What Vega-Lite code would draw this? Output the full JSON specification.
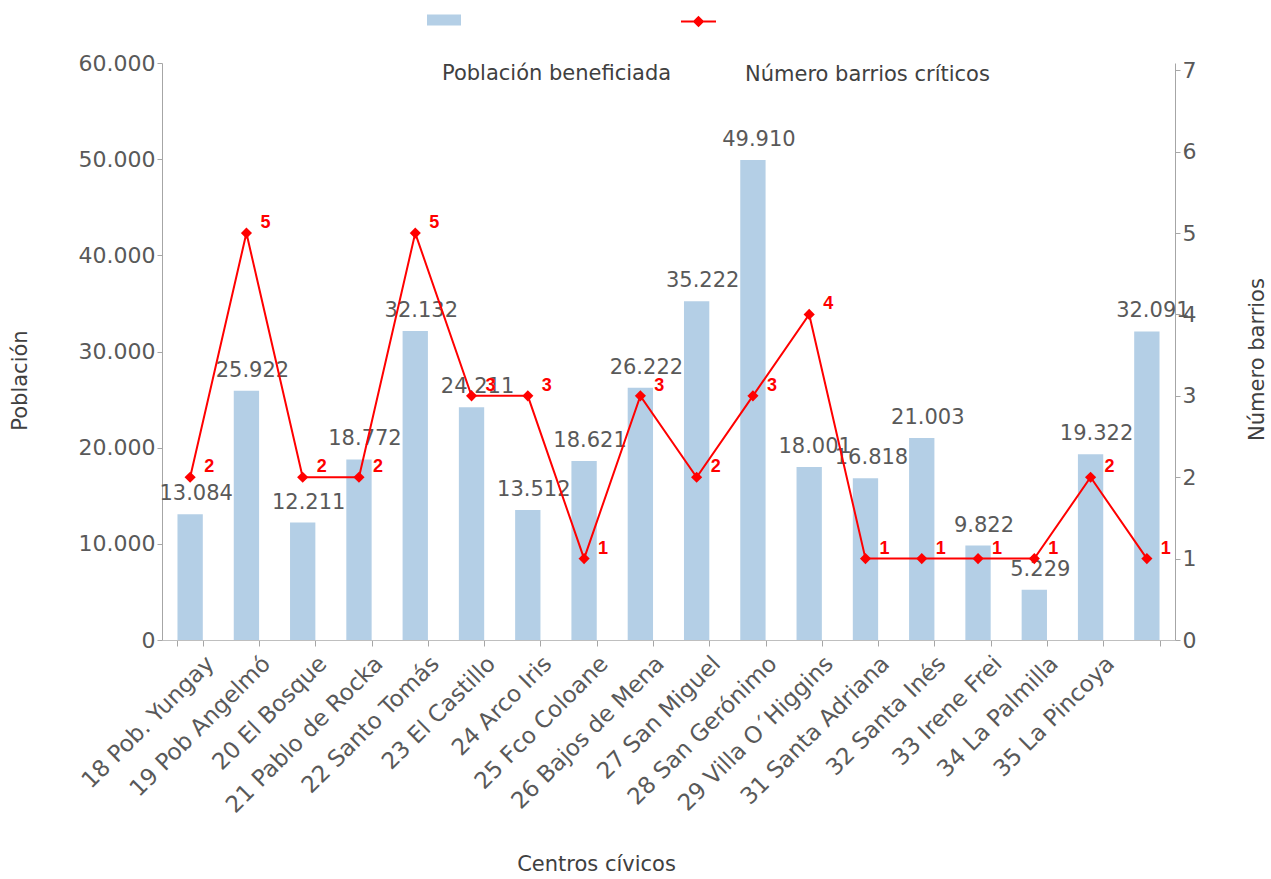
{
  "$schema": "https://vega.github.io/schema/vega-lite/v6.json",
  "width": 1013,
  "height": 577,
  "autosize": {"type": "none"},
  "padding": {"left": 162, "top": 63, "right": 96, "bottom": 239},
  "background": "white",
  "config": {
    "locale": {"number": {"decimal": ",", "thousands": ".", "grouping": [3], "currency": ["$", ""]}},
    "view": {"stroke": null},
    "font": "DejaVu Sans",
    "axis": {"labelColor": "#595959", "titleColor": "#404040", "labelFont": "DejaVu Sans", "titleFont": "DejaVu Sans", "titleFontWeight": "normal", "domainColor": "#a6a6a6", "tickColor": "#a6a6a6", "grid": false}
  },
  "data": {"values": [
    {"centro": "18 Pob. Yungay", "poblacion": 13084, "barrios": 2},
    {"centro": "19 Pob Angelmó", "poblacion": 25922, "barrios": 5},
    {"centro": "20 El Bosque", "poblacion": 12211, "barrios": 2},
    {"centro": "21 Pablo de Rocka", "poblacion": 18772, "barrios": 2},
    {"centro": "22 Santo Tomás", "poblacion": 32132, "barrios": 5},
    {"centro": "23 El Castillo", "poblacion": 24211, "barrios": 3},
    {"centro": "24 Arco Iris", "poblacion": 13512, "barrios": 3},
    {"centro": "25 Fco Coloane", "poblacion": 18621, "barrios": 1},
    {"centro": "26 Bajos de Mena", "poblacion": 26222, "barrios": 3},
    {"centro": "27 San Miguel", "poblacion": 35222, "barrios": 2},
    {"centro": "28 San Gerónimo", "poblacion": 49910, "barrios": 3},
    {"centro": "29 Villa O´Higgins", "poblacion": 18001, "barrios": 4},
    {"centro": "31 Santa Adriana", "poblacion": 16818, "barrios": 1},
    {"centro": "32 Santa Inés", "poblacion": 21003, "barrios": 1},
    {"centro": "33 Irene Frei", "poblacion": 9822, "barrios": 1},
    {"centro": "34 La Palmilla", "poblacion": 5229, "barrios": 1},
    {"centro": "35 La Pincoya", "poblacion": 19322, "barrios": 2},
    {"centro": "", "poblacion": 32091, "barrios": 1}
  ]},
  "encoding": {
    "x": {"field": "centro", "type": "nominal", "sort": null,
      "scale": {"paddingInner": 0.55, "paddingOuter": 0.275},
      "axis": {"title": "Centros cívicos", "labelAngle": -45, "labelFontSize": 23, "labelLimit": 400, "labelOffset": 12, "titleFontSize": 21, "titleX": 434, "titleY": 224, "titleAlign": "center", "titleBaseline": "middle", "tickBand": "extent", "tickSize": 6, "labelPadding": 6, "domainColor": "#bfbfbf"}}
  },
  "layer": [
    {
      "layer": [
        {"mark": {"type": "bar"},
          "encoding": {
            "y": {"field": "poblacion", "type": "quantitative", "scale": {"domain": [0, 60000]},
              "axis": {"title": "Población", "format": ",d", "values": [0, 10000, 20000, 30000, 40000, 50000, 60000], "labelFontSize": 22, "titleFontSize": 21, "titlePadding": 48, "titleY": 317, "tickSize": 5}},
            "fill": {"datum": "Población beneficiada", "type": "nominal", "scale": {"range": ["#b4cfe6"]},
              "legend": {"orient": "none", "legendX": 280, "legendY": -60, "title": "Población beneficiada", "titleOrient": "bottom", "titleAnchor": "start", "titleFontSize": 21, "titleFontWeight": "normal", "titleColor": "#404040", "titleFont": "DejaVu Sans", "titlePadding": 38, "titleLimit": 600, "labelExpr": "''", "symbolOffset": -15, "symbolType": "M-1,-0.32H1V0.32H-1Z", "symbolSize": 1156, "symbolStrokeWidth": 0}}
          }},
        {"mark": {"type": "text", "baseline": "bottom", "dx": 6, "dy": -10, "fontSize": 21, "color": "#595959", "font": "DejaVu Sans"},
          "encoding": {
            "y": {"field": "poblacion", "type": "quantitative"},
            "text": {"field": "poblacion", "type": "quantitative", "format": ","}
          }}
      ]
    },
    {
      "layer": [
        {"mark": {"type": "line", "strokeWidth": 2, "point": {"shape": "diamond", "filled": true, "size": 70, "color": "#ff0000"}},
          "encoding": {
            "y": {"field": "barrios", "type": "quantitative", "scale": {"domain": [0, 7.09], "nice": false},
              "axis": {"title": "Número barrios", "orient": "right", "format": "d", "values": [0, 1, 2, 3, 4, 5, 6, 7], "labelFontSize": 22, "titleFontSize": 21, "titleAngle": 270, "titlePadding": 72, "titleY": 296, "tickSize": 5}},
            "stroke": {"datum": "Número barrios críticos", "type": "nominal", "scale": {"range": ["#ff0000"]},
              "legend": {"orient": "none", "legendX": 583, "legendY": -60, "title": "Número barrios críticos", "titleOrient": "bottom", "titleAnchor": "start", "titleFontSize": 21, "titleFontWeight": "normal", "titleColor": "#404040", "titleFont": "DejaVu Sans", "titlePadding": 34, "titleLimit": 600, "labelExpr": "''", "symbolOffset": -65, "symbolType": "M-1,0H1M0,-0.25L0.25,0L0,0.25L-0.25,0Z", "symbolSize": 1225, "symbolStrokeWidth": 2, "symbolStrokeColor": "#ff0000", "symbolFillColor": "#ff0000"}}
          }},
        {"mark": {"type": "text", "align": "left", "baseline": "middle", "dx": 14, "dy": -10, "fontSize": 18, "fontWeight": "bold", "color": "#ff0000", "font": "Liberation Sans"},
          "encoding": {
            "y": {"field": "barrios", "type": "quantitative"},
            "text": {"field": "barrios", "type": "quantitative"}
          }}
      ]
    }
  ],
  "resolve": {"scale": {"y": "independent", "fill": "independent", "stroke": "independent"}}
}
